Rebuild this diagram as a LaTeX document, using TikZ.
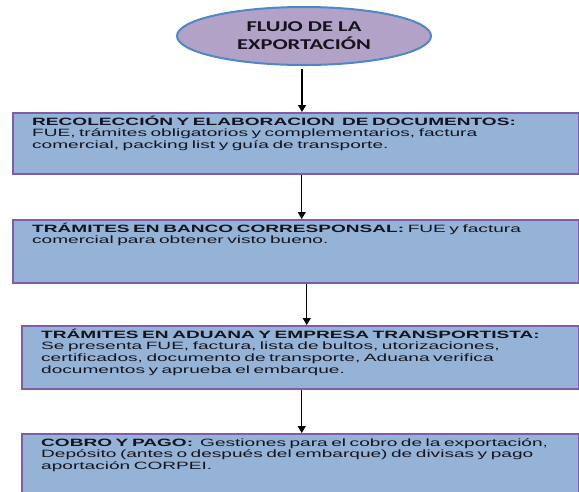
\documentclass[tikz,border=0pt]{standalone}
\usepackage{fontspec}
\usepackage{xcolor}
\usetikzlibrary{arrows.meta}
\usetikzlibrary{shapes.geometric}
\usetikzlibrary{math}
\newfontfamily\fuentecaja[FakeStretch=1.8]{Liberation Sans}
\newfontfamily\fuentetitulo[FakeStretch=1.5]{Carlito}
\definecolor{myblue}{RGB}{149,179,215}
\definecolor{mypurple}{RGB}{128,92,170}
\definecolor{mylila}{RGB}{179,162,199}
\definecolor{myborde}{RGB}{79,134,198}
\definecolor{mytext}{RGB}{20,20,30}

\begin{document}
\begin{tikzpicture}[x=1pt,y=-1pt,
caja/.style={rectangle,draw=mypurple,fill=myblue,line width=1.5pt,inner sep=0pt,anchor=north west},
texto/.style={anchor=base west,inner sep=0pt,text width=555pt,align=left,text=mytext,font=\fuentecaja\fontsize{10.6}{11.8}\selectfont},
flecha/.style={-{Triangle[width=8pt,length=7pt]},line width=1.3pt}]
\tikzmath{
\wa=566;
\wb=557;
\margx=20;
\margy=13;
}
\useasboundingbox (0,0) rectangle (579,491);
\clip (0,0) rectangle (579,491);

\node[ellipse,draw=myborde,fill=mylila,line width=2pt,minimum width=254pt,minimum height=58pt,inner sep=0pt,align=center,text=mytext,font=\fuentetitulo\bfseries\fontsize{15}{18}\selectfont] (titulo) at (304,36) {FLUJO DE LA\\EXPORTACIÓN};

\node[caja,minimum width=\wa,minimum height=61] (recol) at (12,112) {};
\node[caja,minimum width=\wa,minimum height=63] (banco) at (12,219) {};
\node[caja,minimum width=\wb,minimum height=63] (aduana) at (21,325) {};
\node[caja,minimum width=\wb,minimum height=65] (cobro) at (21,433) {};

\node[texto] (recoltxt) at ([shift={(\margx,\margy)}]recol.north west) {\textbf{RECOLECCIÓN Y ELABORACION\ \ DE DOCUMENTOS:}\\FUE, trámites obligatorios y complementarios, factura\\comercial, packing list y guía de transporte.};
\node[texto] (bancotxt) at ([shift={(\margx,\margy)}]banco.north west) {\textbf{TRÁMITES EN BANCO CORRESPONSAL:} FUE y factura\\comercial para obtener visto bueno.};
\node[texto] (aduanatxt) at ([shift={(\margx,\margy)}]aduana.north west) {\textbf{TRÁMITES EN ADUANA Y EMPRESA TRANSPORTISTA:}\\Se presenta FUE, factura, lista de bultos, utorizaciones,\\certificados, documento de transporte, Aduana verifica\\documentos y aprueba el embarque.};
\node[texto] (cobrotxt) at ([shift={(\margx,\margy)}]cobro.north west) {\textbf{COBRO Y PAGO:}\ \ Gestiones para el cobro de la exportación,\\Depósito (antes o después del embarque) de divisas y pago\\aportación CORPEI.};

\draw[flecha] (titulo.south) ++(-2,3) coordinate (f0) -- (f0 |- recol.north);
\draw[flecha] (recol.south) ++(6,0) coordinate (f1) -- (f1 |- banco.north);
\draw[flecha] (banco.south) ++(11,0) coordinate (f2) -- (f2 |- aduana.north);
\draw[flecha] (aduana.south) ++(1.5,0) coordinate (f3) -- (f3 |- cobro.north);
\end{tikzpicture}
\end{document}
